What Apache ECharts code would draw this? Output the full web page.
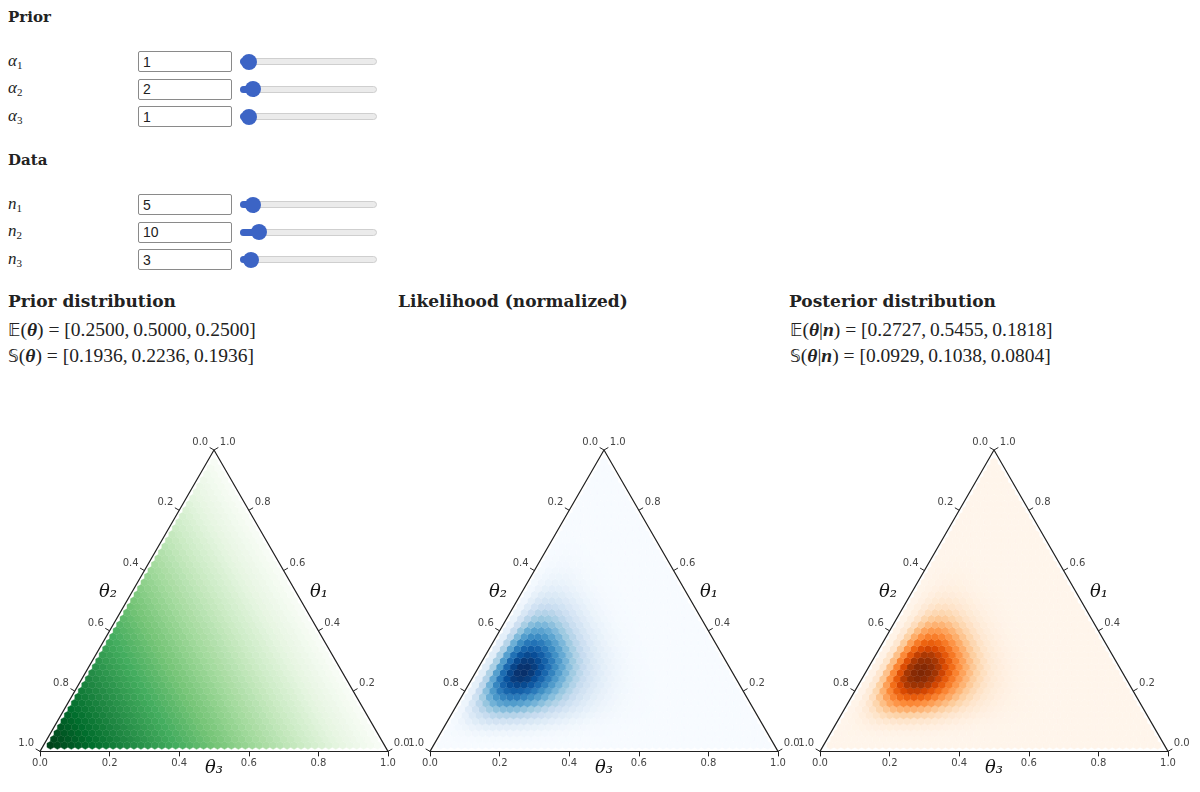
<!DOCTYPE html>
<html>
<head>
<meta charset="utf-8">
<script src="https://cdn.jsdelivr.net/npm/echarts@6/dist/echarts.min.js"></script>
<style>
  body { margin: 0; width: 1200px; height: 792px; overflow: hidden; position: relative; background: #fff; color: #222; font-family: "Liberation Serif", serif; }
  .h { position: absolute; font-family: "DejaVu Serif", serif; font-weight: bold; font-size: 17px; line-height: 20px; color: #222; white-space: nowrap; }
  .h.small { font-size: 15px; }
  .lab { position: absolute; left: 8px; font-size: 17px; line-height: 20px; font-style: italic; }
  .lab sub { font-style: normal; font-size: 11px; vertical-align: -3px; }
  .box { position: absolute; left: 138px; width: 94px; height: 21px; margin: 0; box-sizing: border-box; border: 1px solid #8a8a8a; border-radius: 2px; padding: 0 4px; font: 14px "Liberation Sans", Arial, sans-serif; color: #222; background: #fff; }
  .track { position: absolute; left: 240px; width: 137px; height: 7px; box-sizing: border-box; border: 1px solid #cfcfcf; border-radius: 4px; background: #ebebeb; }
  .fill { position: absolute; left: 240px; height: 7px; border-radius: 4px; background: #3c64c5; }
  .thumb { position: absolute; width: 16px; height: 16px; border-radius: 8px; background: #3c64c5; }
  .m { position: absolute; font-size: 19.5px; line-height: 24px; white-space: nowrap; }
  .bb { font-family: "DejaVu Sans", sans-serif; font-size: 17px; }
  #chart { position: absolute; left: 0; top: 400px; width: 1200px; height: 392px; }
</style>
</head>
<body>
<div id="ui"></div>
<div id="chart"></div>
<script>
// 先驗參數與觀測次數
var alpha = [1, 2, 1];
var counts = [5, 10, 3];
// 畫面上的期望值與標準差
var priorMean = ['0.2500', '0.5000', '0.2500'];
var priorStd = ['0.1936', '0.2236', '0.1936'];
var postMean = ['0.2727', '0.5455', '0.1818'];
var postStd = ['0.0929', '0.1038', '0.0804'];
// 三角形各邊刻度
var axisTicks = [0, 0.2, 0.4, 0.6, 0.8, 1.0];
// 六角格細分數
var hexScale = 50;

var H = Math.sqrt(3) / 2;

var greens = ['#f7fcf5', '#e5f5e0', '#c7e9c0', '#a1d99b', '#74c476', '#41ab5d', '#238b45', '#006d2c', '#00441b'];
var blues = ['#f7fbff', '#deebf7', '#c6dbef', '#9ecae1', '#6baed6', '#4292c6', '#2171b5', '#08519c', '#08306b'];
var oranges = ['#fff5eb', '#fee6ce', '#fdd0a2', '#fdae6b', '#fd8d3c', '#f16913', '#d94801', '#a63603', '#7f2704'];

//上方的輸入列
function buildControls() {
    var html = '';
    html += '<div class="h small" style="left:8px;top:7px">Prior</div>';
    html += '<div class="h small" style="left:8px;top:150px">Data</div>';
    var rows = [
        { sym: 'α', idx: 1, val: alpha[0], y: 61.5, min: 0.5, max: 30 },
        { sym: 'α', idx: 2, val: alpha[1], y: 89, min: 0.5, max: 30 },
        { sym: 'α', idx: 3, val: alpha[2], y: 116.5, min: 0.5, max: 30 },
        { sym: 'n', idx: 1, val: counts[0], y: 204.5, min: 0, max: 100 },
        { sym: 'n', idx: 2, val: counts[1], y: 232, min: 0, max: 100 },
        { sym: 'n', idx: 3, val: counts[2], y: 259.5, min: 0, max: 100 }
    ];
    rows.forEach(function (r) {
        var tx = 247.3 + (r.val - r.min) / (r.max - r.min) * 120;
        html += '<div class="lab" style="top:' + (r.y - 11) + 'px">' + r.sym + '<sub>' + r.idx + '</sub></div>';
        html += '<input class="box" style="top:' + (r.y - 10.5) + 'px" value="' + r.val + '">';
        html += '<div class="track" style="top:' + (r.y - 3.5) + 'px"></div>';
        html += '<div class="fill" style="top:' + (r.y - 3.5) + 'px;width:' + (tx - 240) + 'px"></div>';
        html += '<div class="thumb" style="top:' + (r.y - 8) + 'px;left:' + (tx - 8) + 'px"></div>';
    });
    var theta = '<b><i>θ</i></b>';
    var given = theta + '|<b><i>n</i></b>';
    function stat(letter, arg, vals) {
        return '<span class="bb">' + letter + '</span>(' + arg + ') = [' + vals.join(',\u2009') + ']';
    }
    html += '<div class="h" style="left:8px;top:291px">Prior distribution</div>';
    html += '<div class="h" style="left:398px;top:291px">Likelihood (normalized)</div>';
    html += '<div class="h" style="left:789px;top:291px">Posterior distribution</div>';
    html += '<div class="m" style="left:8px;top:318px">' + stat('𝔼', theta, priorMean) + '</div>';
    html += '<div class="m" style="left:8px;top:344px">' + stat('𝕊', theta, priorStd) + '</div>';
    html += '<div class="m" style="left:790px;top:318px">' + stat('𝔼', given, postMean) + '</div>';
    html += '<div class="m" style="left:790px;top:344px">' + stat('𝕊', given, postStd) + '</div>';
    document.getElementById('ui').innerHTML = html;
}

//Lanczos 近似 log Gamma
var lanczos = [0.99999999999980993, 676.5203681218851, -1259.1392167224028, 771.32342877765313,
    -176.61502916214059, 12.507343278686905, -0.13857109526572012, 9.9843695780195716e-6, 1.5056327351493116e-7];
function lgamma(x) {
    if (x < 0.5) return Math.log(Math.PI / Math.sin(Math.PI * x)) - lgamma(1 - x);
    x -= 1;
    var a = lanczos[0];
    var t = x + 7.5;
    for (var i = 1; i < 9; i++) a += lanczos[i] / (x + i);
    return 0.5 * Math.log(2 * Math.PI) + (x + 0.5) * Math.log(t) - t + Math.log(a);
}

//Dirichlet 密度在三角格點上的值 (θ1 在上, θ2 在左下, θ3 在右下)
function dirichletCells(a) {
    var cells = [];
    var logC = lgamma(a[0] + a[1] + a[2]) - lgamma(a[0]) - lgamma(a[1]) - lgamma(a[2]);
    for (var i = 1; i < hexScale; i++) {
        for (var j = 1; i + j < hexScale; j++) {
            var k = hexScale - i - j;
            var t1 = i / hexScale, t2 = j / hexScale, t3 = k / hexScale;
            var v = Math.exp(logC + (a[0] - 1) * Math.log(t1) + (a[1] - 1) * Math.log(t2) + (a[2] - 1) * Math.log(t3));
            cells.push([t3 + t1 / 2, t1 * H, v]);
        }
    }
    return cells;
}

function hexItem(params, api) {
    var c = api.coord([api.value(0), api.value(1)]);
    var d = api.size([1 / hexScale, 0])[0];
    var r = d / Math.sqrt(3);
    var pts = [];
    for (var k = 0; k < 6; k++) {
        var ang = Math.PI / 180 * (30 + 60 * k);
        pts.push([c[0] + r * Math.cos(ang), c[1] + r * Math.sin(ang)]);
    }
    var col = api.visual('color');
    return { type: 'polygon', shape: { points: pts }, style: { fill: col, stroke: col, lineWidth: 0.4 } };
}

function sideTicks(side) {
    return function (params, api) {
        var t = api.value(0);
        var p = side === 'left' ? [(1 - t) / 2, (1 - t) * H] : [1 - t / 2, t * H];
        var c = api.coord(p);
        var dx = side === 'left' ? -0.866 : 0.866;
        var ex = c[0] + dx * 5, ey = c[1] - 0.5 * 5;
        return {
            type: 'group',
            children: [
                { type: 'line', shape: { x1: c[0], y1: c[1], x2: ex, y2: ey }, style: { stroke: '#222', lineWidth: 1 } },
                {
                    type: 'text', x: ex + (side === 'left' ? -1.5 : 1.5), y: ey - 5,
                    style: { text: t.toFixed(1), fill: '#444', font: '10px "DejaVu Sans"', align: side === 'left' ? 'right' : 'left', verticalAlign: 'middle' }
                }
            ]
        };
    };
}

var axisNames = ['θ₂', 'θ₁', 'θ₃'];
function nameItem(params, api) {
    var s = api.value(0);
    var c, x, y;
    if (s === 0) { c = api.coord([0.25, H / 2]); x = c[0] - 19; y = c[1] - 8; }
    else if (s === 1) { c = api.coord([0.75, H / 2]); x = c[0] + 18; y = c[1] - 8; }
    else { c = api.coord([0.5, 0]); x = c[0]; y = c[1] + 17; }
    return {
        type: 'text', x: x, y: y,
        style: { text: axisNames[s], fill: '#111', font: 'italic 18px "DejaVu Serif"', align: 'center', verticalAlign: 'middle' }
    };
}

buildControls();

//先驗、似然(以 n 為參數)、後驗
var panels = [
    { params: alpha, colors: greens, left: 40 },
    { params: counts, colors: blues, left: 430 },
    { params: alpha.map(function (a, i) { return a + counts[i]; }), colors: oranges, left: 820 }
];

var myChart = echarts.init(document.getElementById('chart'));
var option = { animation: false, grid: [], xAxis: [], yAxis: [], series: [], visualMap: [] };

panels.forEach(function (p, i) {
    var cells = dirichletCells(p.params);
    var vals = cells.map(function (c) { return c[2]; });
    option.grid.push({ left: p.left, top: 50, width: 348, height: 348 * H });
    option.xAxis.push({
        gridIndex: i, type: 'value', min: 0, max: 1, interval: 0.2,
        axisLine: { show: true, lineStyle: { color: '#222', width: 1.2 } },
        axisTick: { show: true, length: 5, lineStyle: { color: '#222' } },
        splitLine: { show: false },
        axisLabel: { formatter: function (v) { return v.toFixed(1); }, color: '#444', fontSize: 10, fontFamily: 'DejaVu Sans', margin: 7, showMinLabel: true, showMaxLabel: true }
    });
    option.yAxis.push({ gridIndex: i, type: 'value', min: 0, max: H, show: false });
    option.series.push({
        type: 'custom', xAxisIndex: i, yAxisIndex: i, data: cells, renderItem: hexItem,
        encode: { x: 0, y: 1 }, silent: true, z: 1
    });
    option.visualMap.push({
        type: 'continuous', show: false, seriesIndex: option.series.length - 1, dimension: 2,
        min: Math.min.apply(null, vals), max: Math.max.apply(null, vals), inRange: { color: p.colors }
    });
    option.series.push({
        type: 'line', xAxisIndex: i, yAxisIndex: i, data: [[0, 0], [0.5, H], [1, 0]],
        symbol: 'none', lineStyle: { color: '#222', width: 1.2 }, silent: true, z: 5
    });
    option.series.push({
        type: 'custom', xAxisIndex: i, yAxisIndex: i, data: axisTicks.map(function (t) { return [t]; }),
        renderItem: sideTicks('left'), silent: true, z: 6
    });
    option.series.push({
        type: 'custom', xAxisIndex: i, yAxisIndex: i, data: axisTicks.map(function (t) { return [t]; }),
        renderItem: sideTicks('right'), silent: true, z: 6
    });
    option.series.push({
        type: 'custom', xAxisIndex: i, yAxisIndex: i, data: [[0], [1], [2]],
        renderItem: nameItem, silent: true, z: 6
    });
});

myChart.setOption(option);
</script>
</body>
</html>
